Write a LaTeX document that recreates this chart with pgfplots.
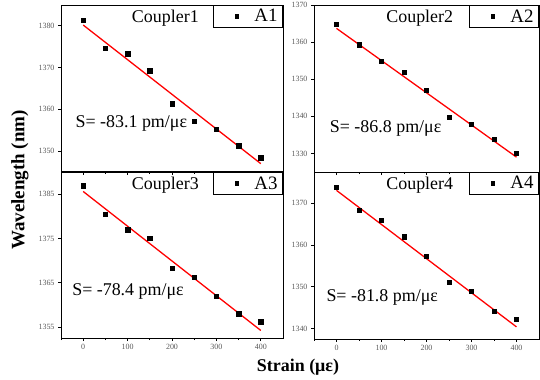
\documentclass[border=0pt]{standalone}
\usepackage{fontspec}
\setmainfont{Liberation Serif}
\usepackage{pgfplots}
\pgfplotsset{compat=1.18}
\begin{document}
\begin{tikzpicture}
\path[use as bounding box] (0bp,0bp) rectangle (540bp,-380bp);
\tikzset{lab/.style={font=\fontsize{18}{18}\selectfont}}
\pgfplotsset{
 panel/.style={
  scale only axis, anchor=north west,
  xmin=-50,xmax=450, xtick={0,100,...,400}, minor xtick={-50,50,150,250,350},
  tick align=outside, xtick pos=bottom, ytick pos=left,
  tick style={black, line width=0.8pt}, major tick length=3bp, minor tick length=2bp,
  axis line style={line width=1pt},
  tick label style={font=\fontsize{8}{8}\selectfont, text=black!65},
  /pgf/number format/assume math mode=true,
  /pgf/number format/set thousands separator={},
  legend style={at={(1,1)},anchor=north east, draw=black, line width=1pt,
    font=\fontsize{19}{19}\selectfont, inner xsep=3bp, inner ysep=2bp,
    /tikz/every odd column/.append style={column sep=13bp}},
  legend image code/.code={\fill[black,draw=none] (18bp,-2.2bp) rectangle ++(4.4bp,4.4bp); \path[draw=none,fill=none] (0bp,0bp) rectangle (22.4bp,0.1bp);},
  legend cell align=left,
 },
 dat/.style={only marks, mark=square*, mark size=2.2pt, black},
 fitl/.style={red, line width=1.3pt, no marks, forget plot},
}
% Panel 1
\begin{axis}[panel, at={(61bp,-5bp)}, width=222bp, height=167bp,
  ymin=1345, ymax=1385, ytick={1350,1360,1370,1380}, xticklabels={}]
\addplot[fitl] coordinates {(0,1380.2) (400,1347.0)};
\addplot[dat] coordinates {(0,1381.3) (50,1374.6) (100,1373.3) (150,1369.3) (200,1361.4) (250,1357.2) (300,1355.2) (350,1351.3) (400,1348.4)};
\legend{A1}
\node[lab] at (rel axis cs:0.47,0.92) {Coupler1};
\node[lab, anchor=west] at (rel axis cs:0.05,0.29) {S= -83.1 pm/με};
\end{axis}
% Panel 2
\begin{axis}[panel, at={(314bp,-5bp)}, width=225bp, height=167bp,
  ymin=1325, ymax=1370, ytick={1330,1340,1350,1360,1370}, xticklabels={}]
\addplot[fitl] coordinates {(0,1363.7) (400,1329.0)};
\addplot[dat] coordinates {(0,1364.9) (50,1359.3) (100,1354.9) (150,1351.9) (200,1347.0) (250,1339.8) (300,1337.8) (350,1333.9) (400,1330.0)};
\legend{A2}
\node[lab] at (rel axis cs:0.47,0.92) {Coupler2};
\node[lab, anchor=west] at (rel axis cs:0.055,0.26) {S= -86.8 pm/με};
\end{axis}
% Panel 3
\begin{axis}[panel, at={(61bp,-172bp)}, width=222bp, height=166bp,
  ymin=1352.5, ymax=1390, ytick={1355,1365,1375,1385}]
\addplot[fitl] coordinates {(0,1385.6) (400,1354.2)};
\addplot[dat] coordinates {(0,1386.9) (50,1380.4) (100,1377.0) (150,1375.0) (200,1368.2) (250,1366.2) (300,1362.0) (350,1358.0) (400,1356.2)};
\legend{A3}
\node[lab] at (rel axis cs:0.47,0.92) {Coupler3};
\node[lab, anchor=west] at (rel axis cs:0.035,0.28) {S= -78.4 pm/με};
\end{axis}
% Panel 4
\begin{axis}[panel, at={(314bp,-172bp)}, width=225bp, height=167bp,
  ymin=1337.5, ymax=1377.5, ytick={1340,1350,1360,1370}]
\addplot[fitl] coordinates {(0,1373.1) (400,1340.4)};
\addplot[dat] coordinates {(0,1373.8) (50,1368.4) (100,1365.9) (150,1362.0) (200,1357.3) (250,1351.1) (300,1349.0) (350,1344.1) (400,1342.3)};
\legend{A4}
\node[lab] at (rel axis cs:0.47,0.92) {Coupler4};
\node[lab, anchor=west] at (rel axis cs:0.04,0.25) {S= -81.8 pm/με};
\end{axis}
\node[rotate=90, font=\bfseries\fontsize{19}{19}\selectfont] at (20bp,-180bp) {Wavelength (nm)};
\node[font=\bfseries\fontsize{18}{18}\selectfont] at (298bp,-367bp) {Strain (με)};
\end{tikzpicture}
\end{document}
